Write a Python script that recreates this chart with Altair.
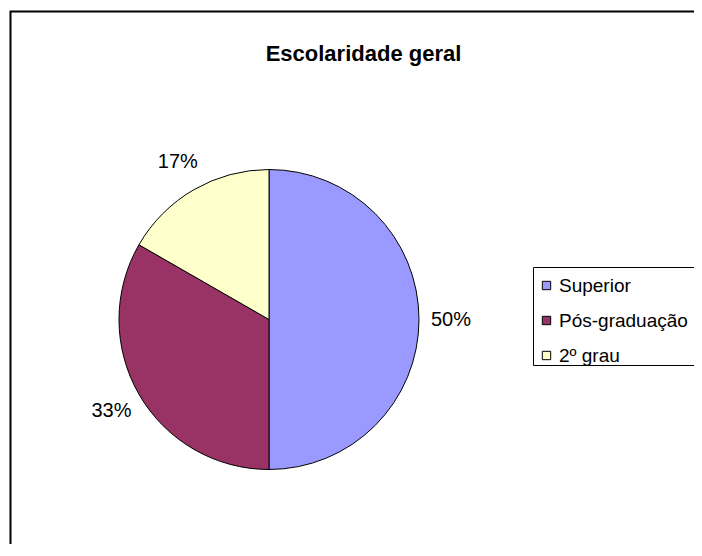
import altair as alt
import pandas as pd

# --- data ---
categorias = ["Superior", "Pós-graduação", "2º grau"]
valores = [50.0, 33.3, 16.7]
rotulos = ["50%", "33%", "17%"]
cores = ["#9999FF", "#993366", "#FFFFCC"]
titulo = "Escolaridade geral"

df = pd.DataFrame({
    "categoria": categorias,
    "valor": valores,
    "rotulo": rotulos,
    "ordem": list(range(len(categorias))),
})

FONT = "Liberation Sans"
W, H = 686, 536
CX, CY, R = 261, 311.5, 150

base = alt.Chart(df)

pie = base.mark_arc(outerRadius=R, stroke="black", strokeWidth=1).encode(
    theta=alt.Theta("valor:Q", stack=True),
    order=alt.Order("ordem:Q"),
    color=alt.Color(
        "categoria:N",
        scale=alt.Scale(domain=categorias, range=cores),
        legend=alt.Legend(
            orient="none", legendX=529, legendY=268, title=None,
            symbolType="square", symbolSize=70,
            symbolStrokeColor="black", symbolStrokeWidth=1, symbolOpacity=1,
            labelFont=FONT, labelFontSize=19, labelColor="black",
            labelOffset=3, rowPadding=15, padding=0, labelLimit=400,
        ),
    ),
    x=alt.value(CX),
    y=alt.value(CY),
)

labels = base.mark_text(radius=182, font=FONT, fontSize=20, color="black").encode(
    theta=alt.Theta("valor:Q", stack=True),
    order=alt.Order("ordem:Q"),
    text="rotulo:N",
    x=alt.value(CX),
    y=alt.value(CY),
)

one = alt.Data(values=[{"t": titulo}])

border = alt.Chart(one).mark_rect(fillOpacity=0, stroke="black", strokeWidth=2).encode(
    x=alt.value(2.5), x2=alt.value(900), y=alt.value(3.5), y2=alt.value(900)
)

legend_box = alt.Chart(one).mark_rect(fillOpacity=0, stroke="black", strokeWidth=1).encode(
    x=alt.value(525.5), x2=alt.value(900), y=alt.value(259.5), y2=alt.value(357.5)
)

title = alt.Chart(one).mark_text(
    font=FONT, fontSize=22, fontWeight="bold", color="black",
    align="center", baseline="alphabetic",
).encode(text="t:N", x=alt.value(355.5), y=alt.value(53))

chart = alt.layer(border, legend_box, title, pie, labels).properties(
    width=W, height=H, autosize=alt.AutoSizeParams(type="none"), padding=0,
    background="white",
).configure_view(stroke=None)

chart.save("out.html", embed_options={"renderer": "svg", "actions": False})
